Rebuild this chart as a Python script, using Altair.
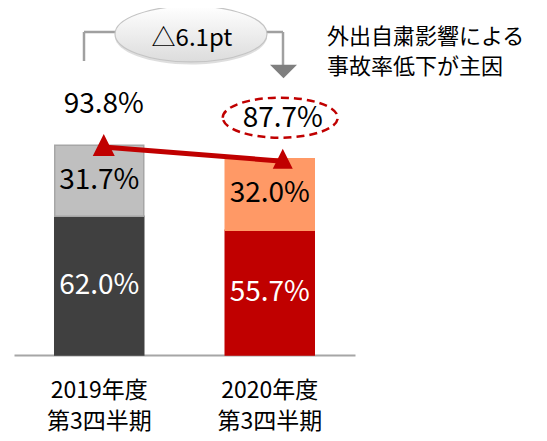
import altair as alt
import pandas as pd

periods = ["2019年度 第3四半期", "2020年度 第3四半期"]
lower = [62.0, 55.7]
upper = [31.7, 32.0]
totals = [93.8, 87.7]
seg_names = ["lower", "upper"]
fill_colors = ["#404040", "#BFBFBF", "#C00000", "#FF9966"]
stroke_colors = ["#404040", "#A6A6A6", "#C00000", "#FF9966"]
diff_label = "△6.1pt"
note_lines = ["外出自粛影響による", "事故率低下が主因"]

NUM_FONT = "Noto Sans CJK JP"
JP_FONT = "Noto Sans CJK JP"

rows = []
for p, lo, up in zip(periods, lower, upper):
    rows.append(dict(period=p, seg="lower", start=0.0, end=lo, val=lo, key=p + "|lower"))
    rows.append(dict(period=p, seg="upper", start=lo, end=lo + up, val=up, key=p + "|upper"))
seg = pd.DataFrame(rows)
seg["mid"] = (seg["start"] + seg["end"]) / 2
seg["label"] = seg["val"].map(lambda v: f"{v:.1f}%")
keys = list(seg["key"])

tot = pd.DataFrame({"period": periods, "total": totals})
tot["label"] = tot["total"].map(lambda v: f"{v:.1f}%")

line_df = pd.DataFrame({"period": [periods[0]], "p2": [periods[1]],
                        "v1": [totals[0]], "v2": [totals[1]]})
one = pd.DataFrame({"k": [0]})

xaxis = alt.Axis(labelExpr="split(datum.label, ' ')", labelAngle=0,
                 ticks=False, labelFont=JP_FONT, labelFontSize=23,
                 labelColor="#000000", labelPadding=24, labelLineHeight=31,
                 domainColor="#A6A6A6", domainWidth=2)
xscale = alt.Scale(type="band", paddingInner=0.478, paddingOuter=0.239)
xenc = alt.X("period:N", sort=periods, title=None, scale=xscale, axis=xaxis)
yscale = alt.Scale(domain=[0, 155])

bars = alt.Chart(seg).mark_bar(strokeWidth=1.5).encode(
    x=xenc,
    y=alt.Y("start:Q", scale=yscale, axis=None),
    y2="end:Q",
    fill=alt.Fill("key:N", scale=alt.Scale(domain=keys, range=fill_colors), legend=None),
    stroke=alt.Stroke("key:N", scale=alt.Scale(domain=keys, range=stroke_colors), legend=None),
)

seg_text = alt.Chart(seg).mark_text(font=NUM_FONT, fontSize=28, baseline="middle").encode(
    x=xenc,
    y=alt.Y("mid:Q", scale=yscale, axis=None),
    text="label:N",
    color=alt.Color("seg:N", scale=alt.Scale(domain=seg_names, range=["#FFFFFF", "#000000"]),
                    legend=None),
)

red_line = alt.Chart(line_df).mark_rule(color="#C00000", strokeWidth=5,
                                        xOffset=4, x2Offset=13, yOffset=2, y2Offset=2.5).encode(
    x=xenc,
    x2="p2:N",
    y=alt.Y("v1:Q", scale=yscale, axis=None),
    y2="v2:Q",
)

tri_path = "M0,-1L1,1L-1,1Z"
layers = [bars, seg_text, red_line]
offsets = [(4.5, 22), (13, 20)]
for p, (dx, sz) in zip(periods, offsets):
    sub = alt.Chart(tot).transform_filter(alt.datum.period == p)
    layers.append(sub.mark_point(shape=tri_path, size=sz * sz, filled=True, color="#C00000",
                                 opacity=1, xOffset=dx).encode(
        x=xenc, y=alt.Y("total:Q", scale=yscale, axis=None)))
    layers.append(sub.mark_text(font=NUM_FONT, fontSize=28, baseline="middle", color="#000000",
                                xOffset=dx, yOffset=-40).encode(
        x=xenc, y=alt.Y("total:Q", scale=yscale, axis=None), text="label:N"))

# dashed ellipse around the 2020 total
ell_d = "M-1,0A1,0.348 0 1,1 1,0A1,0.348 0 1,1 -1,0Z"
layers.append(alt.Chart(tot).transform_filter(alt.datum.period == periods[1]).mark_point(
    shape=ell_d, size=115 * 115, filled=False, stroke="#C00000", strokeWidth=2.5,
    strokeDash=[8, 5], opacity=1, xOffset=10.5, yOffset=-41).encode(
    x=xenc, y=alt.Y("total:Q", scale=yscale, axis=None)))

# bracket with arrow
bc = "#A0A0A0"
layers.append(alt.Chart(one).mark_rule(color=bc, strokeWidth=2.5).encode(
    x=alt.value(70), x2=alt.value(269), y=alt.value(24)))
layers.append(alt.Chart(one).mark_rule(color=bc, strokeWidth=2.5).encode(
    x=alt.value(70), y=alt.value(24), y2=alt.value(53)))
layers.append(alt.Chart(one).mark_rule(color=bc, strokeWidth=2.5).encode(
    x=alt.value(269), y=alt.value(24), y2=alt.value(58)))
layers.append(alt.Chart(one).mark_point(shape="M-1,-0.5L1,-0.5L0,0.5Z", size=27 * 27,
                                        filled=True, color="#7F7F7F", opacity=1).encode(
    x=alt.value(269.5), y=alt.value(63.5)))

ell = "M-1,0A1,0.368 0 1,1 1,0A1,0.368 0 1,1 -1,0Z"
layers.append(alt.Chart(one).mark_point(shape=ell, size=152 * 152, filled=True,
                                        color="#C8C8C8", opacity=0.6).encode(
    x=alt.value(177), y=alt.value(28.5)))
grad = alt.LinearGradient(gradient="linear",
                          stops=[alt.GradientStop(color="#FFFFFF", offset=0),
                                 alt.GradientStop(color="#DCDCDC", offset=1)],
                          x1=0, x2=0, y1=0, y2=1)
layers.append(alt.Chart(one).mark_point(shape=ell, size=152 * 152, filled=True, fill=grad,
                                        stroke="#C4C4C4", strokeWidth=1.2, opacity=1).encode(
    x=alt.value(177), y=alt.value(26)))
layers.append(alt.Chart(one).mark_text(text=diff_label, font=NUM_FONT, fontSize=24,
                                       baseline="middle", color="#000000").encode(
    x=alt.value(178), y=alt.value(31)))

layers.append(alt.Chart(one).mark_text(text=note_lines[0], font=JP_FONT, fontSize=22,
                                       align="left", baseline="middle", color="#000000").encode(
    x=alt.value(313), y=alt.value(29)))
layers.append(alt.Chart(one).mark_text(text=note_lines[1], font=JP_FONT, fontSize=22,
                                       align="left", baseline="middle", color="#000000").encode(
    x=alt.value(313), y=alt.value(59)))

chart = alt.layer(*layers).properties(
    width=341, height=347,
    padding={"left": 6, "top": 0, "right": 180, "bottom": 84},
    autosize=alt.AutoSizeParams(type="none"),
).configure_view(stroke=None)

chart.save("out.html", embed_options={"renderer": "svg", "actions": False})
